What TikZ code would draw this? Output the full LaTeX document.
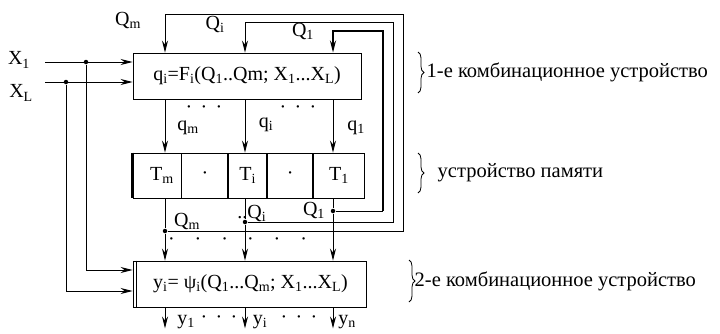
\documentclass[tikz,border=0pt]{standalone}
\usepackage{fontspec}
\setmainfont{Liberation Serif}
\usetikzlibrary{arrows.meta, positioning, calc, decorations.pathreplacing}
\newcommand{\sbs}[1]{\textsubscript{#1}}

\begin{document}
\begin{tikzpicture}[
    x=1pt, y=-1pt,
    line width=0.9pt,
    font=\fontsize{20}{22}\selectfont,
    box/.style={
        draw=black,
        minimum height=46pt,
        inner sep=0pt
    },
    cell/.style={
        draw=black,
        minimum height=45pt,
        inner sep=0pt
    },
    arrow/.style={-{Stealth[length=12pt, width=6pt, inset=4pt]}},
    loopline/.style={line width=2pt},
    junct/.style={circle, fill=black, inner sep=0pt, minimum size=4.5pt},
    brace/.style={decorate, decoration={brace, amplitude=6pt}, line width=0.8pt},
    note/.style={font=\fontsize{20.5}{23}\selectfont}
]

\useasboundingbox (0,0) rectangle (720,333);

\coordinate (colm) at (165,0);
\coordinate (coli) at (245,0);
\coordinate (col1) at (333,0);

\node[box, minimum width=228pt] (comb1) at (247,76) {q\sbs{i}=F\sbs{i}(Q\sbs{1}..Qm; X\sbs{1}...X\sbs{L})};

\node[cell, minimum width=48pt] (tm) at (157,175.5) {\hspace{10pt}T\sbs{m}};
\node[cell, minimum width=46pt, right=0pt of tm] (dm) {·};
\node[cell, minimum width=38pt, right=0pt of dm] (ti) {T\sbs{i}};
\node[cell, minimum width=45pt, right=0pt of ti] (di) {·};
\node[cell, minimum width=51pt, right=0pt of di] (t1) {T\sbs{1}};
\draw[line width=2.5pt] (tm.north west) -- (tm.south west);

\node[box, minimum width=233pt] (comb2) at (249.5,284) {\hspace{2pt}y\sbs{i}= ψ\sbs{i}(Q\sbs{1}...Q\sbs{m}; X\sbs{1}...X\sbs{L})};
\draw ([xshift=4pt]comb2.north west) -- ([xshift=4pt]comb2.south west);

\node (x1) at (19,60) {X\sbs{1}};
\node (xl) at (21,93) {X\sbs{L}};
\coordinate (in1) at (45,62);
\coordinate (inl) at (45,82);
\node[junct] (jx1) at (86,62) {};
\node[junct] (jxl) at (66,82) {};

\draw[arrow] (in1) -- (comb1.west |- in1);
\draw[arrow] (inl) -- (comb1.west |- inl);
\draw[arrow] (jx1) |- ($(comb2.west)+(0,-14)$);
\draw[arrow] (jxl) |- ($(comb2.west)+(0,7)$);

\draw[arrow] (comb1.south -| colm) -- (tm.north -| colm);
\draw[arrow] (comb1.south -| coli) -- (ti.north -| coli);
\draw[arrow] (comb1.south -| col1) -- (t1.north -| col1);

\node[junct] (jqm) at (165,231) {};
\node[junct] (jqi) at (245,222) {};
\node[junct] (jq1) at (333,211) {};

\draw (tm.south -| colm) -- (jqm);
\draw (ti.south -| coli) -- (jqi);
\draw (t1.south -| col1) -- (jq1);
\draw[arrow] (jqm) -- (comb2.north -| colm);
\draw[arrow] (jqi) -- (comb2.north -| coli);
\draw[arrow] (jq1) -- (comb2.north -| col1);

\draw[arrow] (jqm) -| (403,14) -| (comb1.north -| colm);
\draw[arrow] (jqi) -| (393,22) -| (comb1.north -| coli);
\draw (jq1) -- (383,211);
\draw[arrow, loopline] (383,211) -- (383,31) -| (comb1.north -| col1);

\node (lqmt) at (128,20) {Q\sbs{m}};
\node (lqit) at (215,24) {Q\sbs{i}};
\node (lq1t) at (303,31) {Q\sbs{1}};
\node (lqm) at (188,128) {q\sbs{m}};
\node (lqi) at (266,125) {q\sbs{i}};
\node (lq1) at (356,128) {q\sbs{1}};
\node (dotsa) at (204,110) {·\, ·\, ·};
\node (dotsb) at (298,110) {·\, ·\, ·};
\node (lqmb) at (187,221) {Q\sbs{m}};
\node[anchor=west, inner sep=0pt] (lqib) at (237,213) {..Q\sbs{i}};
\node (lq1b) at (314,210) {Q\sbs{1}};
\node (dotsc) at (198,242) {·\quad ·\quad ·};
\node (dotsd) at (277,242) {·\quad ·\quad ·};

\draw[arrow] (comb2.south -| colm) -- ++(0,21);
\draw[arrow] (comb2.south -| coli) -- ++(0,21);
\draw[arrow] (comb2.south -| col1) -- ++(0,21);
\node (ly1) at (186,322) {y\sbs{1}};
\node (lyi) at (260,322) {y\sbs{i}};
\node (lyn) at (347,322) {y\sbs{n}};
\node (dotse) at (219,320) {·\, ·\, ·};
\node (dotsf) at (299,320) {·\, ·\, ·};

\draw[brace] (418,52) -- (418,93) node[note, midway, right=5pt] (lab1) {1-е комбинационное устройство};
\draw[brace] (418,153) -- (418,193) node[note, midway, right=16pt] (lab2) {устройство памяти};
\draw[brace] (409,260) -- (409,302) node[note, midway, right=2pt] (lab3) {2-е комбинационное устройство};

\end{tikzpicture}
\end{document}
